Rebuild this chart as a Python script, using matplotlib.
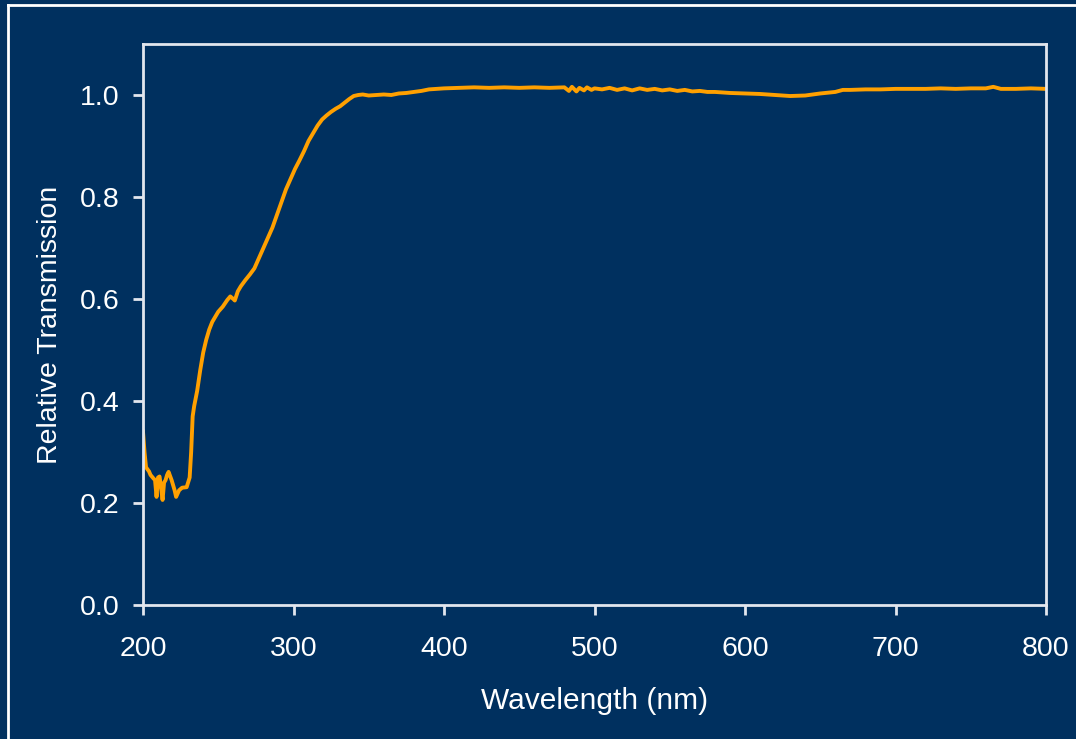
import matplotlib
matplotlib.use("Agg")
import matplotlib.pyplot as plt
from matplotlib.lines import Line2D

wavelength = [200, 201, 202, 204, 205, 207, 208, 209, 210, 211, 212, 213, 214, 215, 216, 217, 219, 221, 222, 224,
              226, 229, 231, 232, 233, 234, 236, 238, 240, 242, 244, 246, 248, 250, 253, 256, 258, 260, 261, 263,
              265, 268, 271, 274, 277, 280, 283, 286, 289, 292, 295, 298, 301, 304, 307, 310, 313, 316, 319, 322,
              325, 328, 331, 334, 337, 340, 343, 346, 350, 355, 360, 365, 370, 375, 380, 385, 390, 395, 400, 410,
              420, 430, 440, 450, 460, 470, 480, 483, 485, 488, 490, 493, 495, 498, 500, 505, 510, 515, 520, 525,
              530, 535, 540, 545, 550, 555, 560, 565, 570, 575, 580, 590, 600, 610, 620, 630, 640, 650, 660, 665,
              670, 680, 690, 700, 710, 720, 730, 740, 750, 760, 765, 770, 780, 790, 800]
transmission = [0.34, 0.30, 0.27, 0.262, 0.255, 0.248, 0.245, 0.212, 0.25, 0.252, 0.23, 0.206, 0.24, 0.245, 0.255,
                0.261, 0.245, 0.225, 0.212, 0.225, 0.23, 0.231, 0.25, 0.30, 0.37, 0.39, 0.42, 0.46, 0.495, 0.52,
                0.54, 0.555, 0.565, 0.575, 0.585, 0.598, 0.605, 0.600, 0.597, 0.615, 0.625, 0.637, 0.648, 0.66,
                0.68, 0.70, 0.72, 0.74, 0.765, 0.79, 0.815, 0.835, 0.855, 0.872, 0.89, 0.91, 0.925, 0.94, 0.952,
                0.96, 0.967, 0.973, 0.978, 0.985, 0.992, 0.998, 1.000, 1.001, 0.999, 1.0, 1.001, 1.0, 1.003, 1.004,
                1.006, 1.008, 1.011, 1.012, 1.013, 1.014, 1.015, 1.014, 1.015, 1.014, 1.015, 1.014, 1.015, 1.008,
                1.016, 1.007, 1.014, 1.009, 1.015, 1.010, 1.013, 1.011, 1.014, 1.010, 1.013, 1.009, 1.013, 1.010,
                1.012, 1.009, 1.011, 1.008, 1.010, 1.007, 1.008, 1.006, 1.006, 1.004, 1.003, 1.002, 1.000, 0.998,
                0.999, 1.003, 1.006, 1.010, 1.010, 1.011, 1.011, 1.012, 1.012, 1.012, 1.013, 1.012, 1.013, 1.013,
                1.016, 1.012, 1.012, 1.013, 1.012]

x_ticks = [200, 300, 400, 500, 600, 700, 800]
y_ticks = [0.0, 0.2, 0.4, 0.6, 0.8, 1.0]

BG = "#00305F"
FG = "#E2E6EE"
LINE = "#FFA000"

plt.rcParams["font.family"] = ["Liberation Sans", "DejaVu Sans"]

fig = plt.figure(figsize=(10.76, 7.39), dpi=100, facecolor=BG)
ax = fig.add_axes([143/1076, 1-605/739, (1046-143)/1076, (605-44)/739])
ax.set_facecolor(BG)
ax.plot(wavelength, transmission, color=LINE, lw=2.8, solid_joinstyle="round")
ax.set_xlim(200, 800)
ax.set_ylim(0, 1.1)
ax.set_xticks(x_ticks)
ax.set_yticks(y_ticks)
ax.set_yticklabels([f"{v:.1f}" for v in y_ticks])
for s in ax.spines.values():
    s.set_color(FG)
    s.set_linewidth(2)
ax.tick_params(axis="both", colors=FG, direction="out", length=7, width=2, labelsize=20.5, labelcolor="white")
ax.tick_params(axis="x", pad=15)
ax.tick_params(axis="y", pad=10)
ax.set_xlabel("Wavelength (nm)", color="white", fontsize=21.5, labelpad=18)
ax.set_ylabel("Relative Transmission", color="white", fontsize=20.5, labelpad=12)

# outer frame lines (top and left)
fig.add_artist(Line2D([8/1076, 1], [1-5/739, 1-5/739], transform=fig.transFigure, color="white", lw=2))
fig.add_artist(Line2D([8/1076, 8/1076], [0, 1-5/739], transform=fig.transFigure, color="white", lw=2))

fig.savefig("out.png", dpi=100, facecolor=BG)
